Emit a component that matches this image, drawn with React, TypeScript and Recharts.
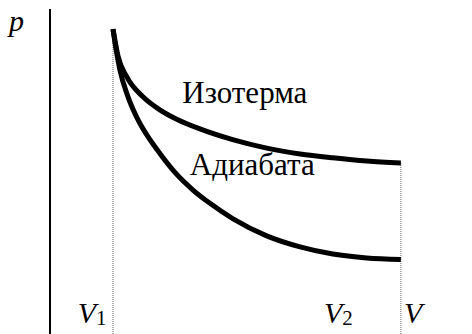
import { LineChart, Line, XAxis, YAxis, ReferenceLine, ReferenceDot } from "recharts";

// p-V diagram: isotherm vs adiabat between V1 and V2 (arbitrary units)
const isoV = [1.0, 1.03, 1.08, 1.22, 1.48, 1.75, 2.02, 2.38, 2.9, 3.44, 3.97, 4.49, 5.03, 5.57];
const isoP = [9.38, 9.05, 8.55, 7.91, 7.29, 6.89, 6.6, 6.31, 5.98, 5.72, 5.54, 5.42, 5.32, 5.26];

const adiV = [1.0, 1.05, 1.11, 1.24, 1.4, 1.59, 1.75, 1.98, 2.27, 2.54, 2.9, 3.44, 3.97, 4.49, 5.03, 5.57];
const adiP = [9.38, 8.74, 8.12, 7.29, 6.58, 5.97, 5.54, 4.98, 4.43, 4.02, 3.55, 3.02, 2.68, 2.46, 2.34, 2.29];

const curveNames = ["Изотерма", "Адиабата"];
const volumeLabels = ["V", "1", "2"];
const pressureLabel = "p";

const isoData = isoV.map((v, i) => ({ v, p: isoP[i] }));
const adiData = adiV.map((v, i) => ({ v, p: adiP[i] }));

const V1 = isoV[0];
const V2 = isoV[isoV.length - 1];

const FONT = "'Liberation Serif', 'Times New Roman', serif";

const plainText = (value: string) => (props: any) => {
  const { x, y } = props.viewBox;
  return (
    <text x={x} y={y} fontFamily={FONT} fontSize={31} fill="#000">
      {value}
    </text>
  );
};

const italicText = (value: string, sub?: string) => (props: any) => {
  const { x, y } = props.viewBox;
  return (
    <text x={x} y={y} fontFamily={FONT} fontSize={30} fontStyle="italic" fill="#000">
      {value}
      {sub && (
        <tspan fontSize={21} fontStyle="normal" dy={2}>
          {sub}
        </tspan>
      )}
    </text>
  );
};

export default function App() {
  return (
    <div style={{ width: 472, height: 334 }}>
      <style>{"body{margin:0}"}</style>
      <LineChart width={472} height={334} margin={{ top: 9, right: 22, left: 50, bottom: 0 }}>
        <XAxis dataKey="v" type="number" domain={[0, 6.35]} hide allowDataOverflow />
        <YAxis dataKey="p" type="number" domain={[0, 10]} hide allowDataOverflow />
        <ReferenceLine x={0} stroke="#000" strokeWidth={2} />
        <ReferenceLine
          segment={[{ x: V1, y: 0 }, { x: V1, y: isoP[0] }]}
          stroke="#666"
          strokeWidth={1}
          strokeDasharray="1 1"
        />
        <ReferenceLine
          segment={[{ x: V2, y: 0 }, { x: V2, y: isoP[isoP.length - 1] }]}
          stroke="#666"
          strokeWidth={1}
          strokeDasharray="1 1"
        />
        <Line
          data={isoData}
          dataKey="p"
          type="monotone"
          stroke="#000"
          strokeWidth={5}
          dot={false}
          isAnimationActive={false}
        />
        <Line
          data={adiData}
          dataKey="p"
          type="monotone"
          stroke="#000"
          strokeWidth={5}
          dot={false}
          isAnimationActive={false}
        />
        <ReferenceDot x={2.1} y={7.11} r={0} stroke="none" fill="none" ifOverflow="visible" label={plainText(curveNames[0])} />
        <ReferenceDot x={2.22} y={4.89} r={0} stroke="none" fill="none" ifOverflow="visible" label={plainText(curveNames[1])} />
        <ReferenceDot x={-0.65} y={9.32} r={0} stroke="none" fill="none" ifOverflow="visible" label={italicText(pressureLabel)} />
        <ReferenceDot x={0.44} y={0.34} r={0} stroke="none" fill="none" ifOverflow="visible" label={italicText(volumeLabels[0], volumeLabels[1])} />
        <ReferenceDot x={4.35} y={0.34} r={0} stroke="none" fill="none" ifOverflow="visible" label={italicText(volumeLabels[0], volumeLabels[2])} />
        <ReferenceDot x={5.62} y={0.34} r={0} stroke="none" fill="none" ifOverflow="visible" label={italicText(volumeLabels[0])} />
      </LineChart>
    </div>
  );
}
